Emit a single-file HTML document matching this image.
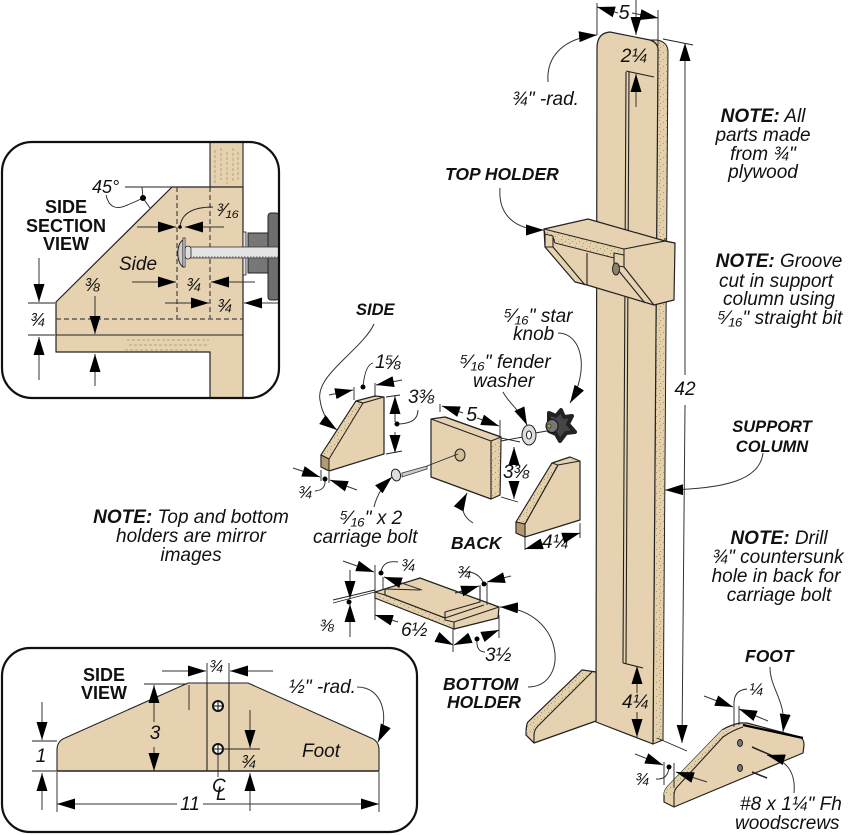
<!DOCTYPE html>
<html><head><meta charset="utf-8"><style>
html,body{margin:0;padding:0;background:#fff}
svg{display:block}
text{font-family:"Liberation Sans",sans-serif;font-style:italic;font-size:19px;fill:#111}
.b{font-weight:bold;font-size:17.500px}
.sb{font-weight:bold;font-style:normal;font-size:18px;text-anchor:middle}
.m{text-anchor:middle}
.w{fill:#e6d2b0;stroke:#222;stroke-width:1.2;stroke-linejoin:round}
.l{fill:none;stroke:#222;stroke-width:1.1}
.o{fill:none;stroke:#222;stroke-width:.9}
.a{fill:none;stroke:#333;stroke-width:1;marker-end:url(#ah)}
.e{fill:url(#sp);stroke:#222;stroke-width:1}
.d{fill:none;stroke:#444;stroke-width:1.2;stroke-dasharray:5 3}
.g{fill:none;stroke:#a8946e;stroke-width:.8;stroke-dasharray:3 2}
</style></head><body>
<svg xmlns="http://www.w3.org/2000/svg" width="850" height="835" viewBox="0 0 850 835">
<defs>
<marker id="ah" markerUnits="userSpaceOnUse" markerWidth="18" markerHeight="11" refX="18" refY="5.500" orient="auto"><path d="M0,0L18,5.500L0,11Z" fill="#000"/></marker>
<pattern id="sp" width="7" height="7" patternUnits="userSpaceOnUse"><rect width="7" height="7" fill="#e4d0ab"/><path d="M1,1h1v1h-1zM5,3h1v1h-1zM2,5h1v1h-1z" fill="#a8956f"/></pattern>
</defs>

<!-- Section inset -->
<rect x="2" y="142" width="277" height="256" rx="30" fill="#fff"/>
<path class="w" style="stroke:none" d="M210,143H243V187H210Z"/>
<path class="w" d="M56,302L172,187H243V398H210V352H56Z"/>
<path class="l" d="M210,143V187M243,143V187M56,335H243"/>
<path class="g" d="M215,150V183M221,148V180M227,152V184M233,148V182M238,152V180"/>
<path class="g" d="M127,340H209M129,345H208M125,350H200"/>
<path class="d" d="M177,187V318M210,187V318M56,319H243"/>
<rect x="248" y="233" width="22" height="40" fill="#777" stroke="#222"/>
<rect x="268" y="213" width="11" height="87" rx="3" fill="#6e6e6e" stroke="#222"/>
<rect x="243" y="232" width="3" height="43" fill="#ddd" stroke="#222" stroke-width=".8"/>
<rect x="187" y="247" width="92" height="11" fill="#e4e4e4" stroke="#333" stroke-width=".8"/>
<path d="M190,257.500H279" stroke="#666" stroke-width="2" stroke-dasharray="1.500 1.500"/>
<path d="M183,240C176,244 176,262 183,267Z" fill="#ccc" stroke="#222"/>
<rect x="183" y="238" width="2" height="29" fill="#fff" stroke="#222" stroke-width=".8"/>
<rect x="185" y="246" width="6" height="13" rx="3" fill="#ddd" stroke="#222" stroke-width=".8"/>
<rect x="2" y="142" width="277" height="256" rx="30" fill="none" stroke="#111" stroke-width="2.200"/>
<text class="sb" x="66" y="213">SIDE</text><text class="sb" x="66" y="232">SECTION</text><text class="sb" x="66" y="250">VIEW</text>
<text x="92" y="193" style="font-size:18px">45°</text>
<path class="o" d="M125,187H172M142,187L143,198L150,208M106,195Q110,212 125,206Q135,202 143,198"/>
<circle cx="143" cy="198" r="3" fill="#000"/>
<text x="217" y="216" style="font-size:18px">³⁄₁₆</text>
<path class="o" d="M213,207Q182,207 180,227"/><circle cx="180" cy="227" r="1.800" fill="#000"/>
<path class="a" d="M137,227H176"/><path class="a" d="M224,227H185"/>
<text x="119" y="270">Side</text>
<path class="a" d="M132,282H176"/><path class="a" d="M255,282H211"/><text x="186" y="291" style="font-size:18px">¾</text>
<path class="a" d="M165,303H209"/><path class="a" d="M278,303H244"/><text x="217" y="312" style="font-size:18px">¾</text>
<text x="85" y="291" style="font-size:18px">⅜</text><path class="a" d="M95,296V334"/><path class="a" d="M95,386V354"/>
<text x="30" y="326" style="font-size:18px">¾</text><path class="a" d="M39,258V302"/><path class="a" d="M39,380V337"/><path class="o" d="M28,303H55M28,335H55"/>

<!-- Side view inset -->
<rect x="2" y="648" width="415" height="184" rx="28" fill="#fff" stroke="#111" stroke-width="2.200"/>
<path class="w" style="stroke:none" d="M57,771V750Q57,741 65,738L188,683H248L371,738Q379,741 379,750V771Z"/>
<path class="l" d="M57,771V750Q57,741 65,738L188,683H248L371,738Q379,741 379,750V771ZM207,683V771M229,683V771"/>
<path class="l" style="stroke-width:1.500" d="M57,771H379"/>
<circle cx="218" cy="706" r="5" fill="#fff" stroke="#111" stroke-width="2"/><path d="M213,706h10M218,701v10" stroke="#111"/>
<circle cx="218" cy="749" r="5" fill="#fff" stroke="#111" stroke-width="2"/><path d="M213,749h10M218,744v10" stroke="#111"/>
<text class="sb" x="104" y="681">SIDE</text><text class="sb" x="104" y="699">VIEW</text>
<text x="209" y="672" style="font-size:17px">¾</text>
<path class="o" d="M207,663V683M229,663V683M144,684H187M189,685V710M218,752V777M218,749H260"/>
<path class="a" d="M162,671H206"/><path class="a" d="M273,671H230"/>
<text class="m" x="155" y="739">3</text><path class="a" d="M154,722V685"/><path class="a" d="M154,747V771"/>
<path class="a" d="M42,702V740"/><path class="a" d="M42,810V773"/><path class="o" d="M32,741H57M32,771H57"/><text class="m" x="41" y="762">1</text>
<text x="289" y="693">½" -rad.</text>
<path class="a" d="M357,687C383,687 390,717 378,742"/>
<text x="302" y="757">Foot</text>
<text x="212" y="792">C</text><text x="216" y="800">L</text>
<text x="241" y="768" style="font-size:18px">¾</text><path class="a" d="M250,710V748"/><path class="a" d="M250,811V773"/>
<path class="a" d="M177,804H57"/><path class="a" d="M203,804H379"/>
<path class="o" d="M57,772V812M379,772V812"/>
<text class="m" x="190" y="810">11</text>

<!-- Column -->
<path class="e" d="M657,40Q668,42 668,52L663,740L653,744L658,52Q658,44 651,40Z"/>
<path class="w" d="M597,48Q597,33 610,32L650,40Q659,43 658,52L653,744L596,722Z"/>
<path class="l" d="M626,72L623,663M629,72L626,664M626,71L654,77M623,663L643,668"/>
<!-- left foot -->
<path class="w" d="M596,672L582,670L528,722Q526,725 526,735L534,743L596,721Z"/>
<path class="e" d="M592,672L582,670L528,722Q526,725 526,735L534,735Q534,730 538,726Z" style="stroke:none"/>
<path class="l" d="M534,743V735Q534,730 538,726L592,672M596,672L582,670L528,722Q526,725 526,735L534,743"/>
<!-- holder -->
<path class="w" d="M544,229L588,219L665,241L675,243L674,300L654,305L587,285L575,282L545,247Z"/>
<path class="e" d="M544,229L624,249V255L614,253V258L555,243L553,237V236L545,234Z"/>
<path class="l" d="M624,249L665,241V238M665,241L675,243M624,255V267L654,305M614,253V265L645,303M614,265L624,267M587,253V285M553,237V247L585,285M545,234V247L553,247"/>
<ellipse cx="616" cy="269" rx="3.500" ry="6" fill="#8d8166" stroke="#222"/>

<!-- right foot -->
<path class="w" d="M664,795Q664,790 668,786L722,730Q730,725 740,723H747L800,737Q804,739 804,745L803,753L674,807L664,802Z"/>
<path class="e" d="M668,786L722,730L733,729L678,786Q674,790 674,795H664Q664,790 668,786Z" style="stroke:none"/>
<path class="l" d="M674,807V795Q674,790 678,786L723,737Q733,730 743,727"/>
<path d="M743,725L803,738" stroke="#000" stroke-width="2.200"/>
<ellipse cx="740" cy="743" rx="2.500" ry="3.500" fill="#777" stroke="#222"/><ellipse cx="740" cy="768" rx="2.500" ry="3.500" fill="#777" stroke="#222"/>
<path d="M752,747L782,760M752,772L767,778" stroke="#222" stroke-width="1.500"/>

<!-- Top dims -->
<path class="o" d="M597,3V35M658,10V46M663,39L693,45M657,738L687,751"/>
<path class="a" d="M618,13L597,7"/><path class="a" d="M632,13L658,18"/><text class="m" x="624" y="19" style="font-size:20px">5</text>
<path class="a" d="M636,0V35"/><text class="m" x="634" y="62">2¼</text><path class="a" d="M636,107V74"/>
<path class="a" d="M548,82C546,55 565,38 597,35"/><text x="512" y="105">¾" -rad.</text>
<path class="a" d="M685,375V43"/><path class="a" d="M685,405L682,743"/><text class="m" x="685" y="395">42</text>

<!-- Notes -->
<text class="m" x="763" y="122"><tspan font-weight="bold">NOTE:</tspan> All</text>
<text class="m" x="763" y="141">parts made</text><text class="m" x="763" y="160">from ¾"</text><text class="m" x="763" y="178">plywood</text>
<text class="m" x="779" y="267"><tspan font-weight="bold">NOTE:</tspan> Groove</text>
<text class="m" x="776" y="287">cut in support</text><text class="m" x="779" y="305">column using</text><text class="m" x="780" y="324">⁵⁄₁₆" straight bit</text>
<text class="b m" x="772" y="432" style="font-size:16.500px">SUPPORT</text><text class="b m" x="772" y="452" style="font-size:16.500px">COLUMN</text>
<path class="a" d="M763,453C760,480 725,489 665,490"/>
<text class="m" x="779" y="544"><tspan font-weight="bold">NOTE:</tspan> Drill</text>
<text class="m" x="778" y="563">¾" countersunk</text><text class="m" x="776" y="582">hole in back for</text><text class="m" x="779" y="601">carriage bolt</text>
<text class="m" x="191" y="523"><tspan font-weight="bold">NOTE:</tspan> Top and bottom</text>
<text class="m" x="191" y="542">holders are mirror</text><text class="m" x="191" y="561">images</text>
<text class="b" x="445" y="180">TOP HOLDER</text>
<path class="a" d="M500,188C498,215 515,230 544,230"/>

<!-- Side part -->
<path class="w" d="M321,455L356,401L375,396L384,397V454L329,471L321,467Z"/>
<path class="e" d="M321,455L356,401L363,403L329,459Z"/>
<path class="e" d="M321,455L329,459V471L321,467Z" style="fill:#b39a6e"/>
<path class="l" d="M356,401L363,403L384,397"/>
<text class="b" x="356" y="315" style="font-size:16.500px">SIDE</text>
<path class="a" d="M374,324C362,350 315,375 320,400C322,415 330,425 337,430"/>
<text x="375" y="368">1</text><text x="385" y="369" style="font-size:19px">⅝</text>
<path class="a" d="M329,395L353,390"/><path class="a" d="M402,380L376,385"/>
<path class="o" d="M354,387V400M375,383V397M363,387Q365,365 373,363M386,397L400,395M386,454L402,451M397,424Q418,424 418,410"/>
<circle cx="363" cy="387" r="2.500" fill="#000"/><circle cx="397" cy="424" r="2.500" fill="#000"/>
<text x="408" y="403">3⅜</text>
<path class="a" d="M395,422V396"/><path class="a" d="M395,432V453"/>
<text x="298" y="498" style="font-size:17px">¾</text>
<path class="a" d="M293,468L320,477"/><path class="a" d="M357,490L330,480"/>
<path class="o" d="M321,470V481M329,472V483M325,480Q326,490 315,491"/><circle cx="325" cy="479" r="2.500" fill="#000"/>

<!-- Back -->
<path class="w" d="M431,419L445,417L501,437L500,495L491,499L431,477Z"/>
<path class="e" d="M491,441L501,437L500,495L491,499Z"/>
<path class="l" d="M431,419L491,441V499M445,417L501,437"/>
<ellipse cx="460" cy="455" rx="5" ry="6" fill="#d3bf9a" stroke="#222"/>
<path class="o" d="M427,466L458,454M501,441L523,437M535,433L547,431"/>
<path d="M402,473L427,466V469L402,477Z" fill="#ccc" stroke="#333" stroke-width=".8"/>
<ellipse cx="396" cy="475" rx="4.500" ry="6" transform="rotate(-15 396 475)" fill="#ddd" stroke="#222"/>
<ellipse cx="529" cy="435" rx="7" ry="10" fill="#ddd" stroke="#222"/><ellipse cx="529" cy="435" rx="2.500" ry="4" fill="#fff" stroke="#222"/>
<path d="M549,413L556,416L561,410L564,417L572,416L568,424L575,432L566,433L560,441L556,434L549,431Z" fill="#454545" stroke="#222" stroke-linejoin="round" stroke-width="4"/>
<ellipse cx="552" cy="426" rx="6" ry="6.500" fill="#777" stroke="#111"/>
<circle cx="549" cy="426" r="2" fill="#ba9a4c" stroke="#111" stroke-width=".6"/>
<text x="466" y="421" style="font-size:20px">5</text>
<path class="o" d="M440,404V412M500,420V437"/>
<path class="a" d="M463,413L442,406"/><path class="a" d="M477,418L499,426"/>
<text x="503" y="478">3⅜</text>
<path class="a" d="M514,463V447"/><path class="a" d="M514,481V499"/>
<path class="o" d="M501,438L520,442M501,497L518,502"/>
<text x="460" y="368">⁵⁄₁₆" fender</text><text x="473" y="387">washer</text>
<text x="504" y="322">⁵⁄₁₆" star</text><text x="513" y="340">knob</text>
<path class="a" d="M558,333C582,333 590,370 570,403"/>
<path class="a" d="M503,392C510,405 520,410 527,425"/>
<text x="340" y="524">⁵⁄₁₆" x 2</text><text x="313" y="543">carriage bolt</text>
<path class="a" d="M374,507Q378,490 392,477"/>
<text class="b" x="451" y="549">BACK</text>
<path class="a" d="M473,523C465,518 458,510 467,493"/>

<!-- Right side part -->
<path class="w" d="M516,522V533L525,537L580,520V461L570,457L552,463Z"/>
<path class="e" d="M516,522L552,463L558,465L525,524Z"/>
<path class="e" d="M516,522L525,524V537L516,533Z" style="fill:#b39a6e"/>
<path class="l" d="M525,537V524L558,465L580,461"/>
<text x="542" y="548">4¼</text>
<path class="o" d="M525,533V550M580,523V538"/>
<path class="a" d="M545,543L525,549"/><path class="a" d="M563,538L580,533"/>

<!-- Bottom holder -->
<path class="w" d="M375,592L420,578L499,607L498,618L454,629L375,598Z"/>
<path class="e" d="M375,592L385,595L445,618V620L454,622V629L375,598Z"/>
<path class="l" d="M385,589V595L445,618V612L480,602V586M454,629V622L499,607M445,618L451,616L484,605M385,589L420,590M455,593L470,590"/>
<path class="o" d="M375,565V620M383,577V590M398,562Q382,560 381,573M333,603L375,592M333,600L375,590M480,585V602M487,583V605M462,572Q478,570 484,584M453,629V652M499,615V638M477,639Q476,652 485,652"/>
<circle cx="381" cy="573" r="2.500" fill="#000"/><circle cx="349" cy="602" r="2.500" fill="#000"/><circle cx="484" cy="584" r="2.500" fill="#000"/><circle cx="477" cy="639" r="2.500" fill="#000"/>
<path class="a" d="M343,561L374,572"/><path class="a" d="M422,590L384,577"/><text x="401" y="571" style="font-size:17px">¾</text>
<path class="a" d="M350,570V599"/><path class="a" d="M350,637V604"/><text x="320" y="631" style="font-size:17px">⅜</text>
<text x="457" y="578" style="font-size:17px">¾</text>
<path class="a" d="M455,593L479,586"/><path class="a" d="M511,576L487,582"/>
<text x="401" y="636">6½</text><path class="a" d="M398,622L375,615"/><path class="a" d="M437,637L453,645"/>
<text x="485" y="661">3½</text><path class="a" d="M470,638L454,645"/><path class="a" d="M487,635L499,630"/>
<text class="b" x="443" y="690">BOTTOM</text><text class="b" x="447" y="708">HOLDER</text>
<path class="a" d="M528,687C570,687 565,610 500,607"/>

<!-- Foot labels -->
<text class="b" x="745" y="662">FOOT</text>
<path class="a" d="M770,667C770,690 787,700 783,732"/>
<text x="749" y="695" style="font-size:17px">¼</text>
<path class="o" d="M734,706Q733,690 747,689M734,706V727M739,706V725"/>
<path class="a" d="M704,696L733,707"/><path class="a" d="M768,721L739,709"/>
<text x="622" y="708">4¼</text>
<path class="a" d="M637,693V666"/><path class="a" d="M637,712V737"/>
<text x="635" y="785" style="font-size:17px">¾</text>
<path class="o" d="M664,762V785M674,763V788M656,779Q668,780 669,767"/><circle cx="669" cy="767" r="2.500" fill="#000"/>
<path class="a" d="M635,754L663,765"/><path class="a" d="M707,782L676,772"/>
<text x="740" y="810">#8 x 1¼" Fh</text><text x="735" y="829">woodscrews</text>
<path class="a" d="M794,793C796,770 785,760 767,755"/>
</svg>
</body></html>
